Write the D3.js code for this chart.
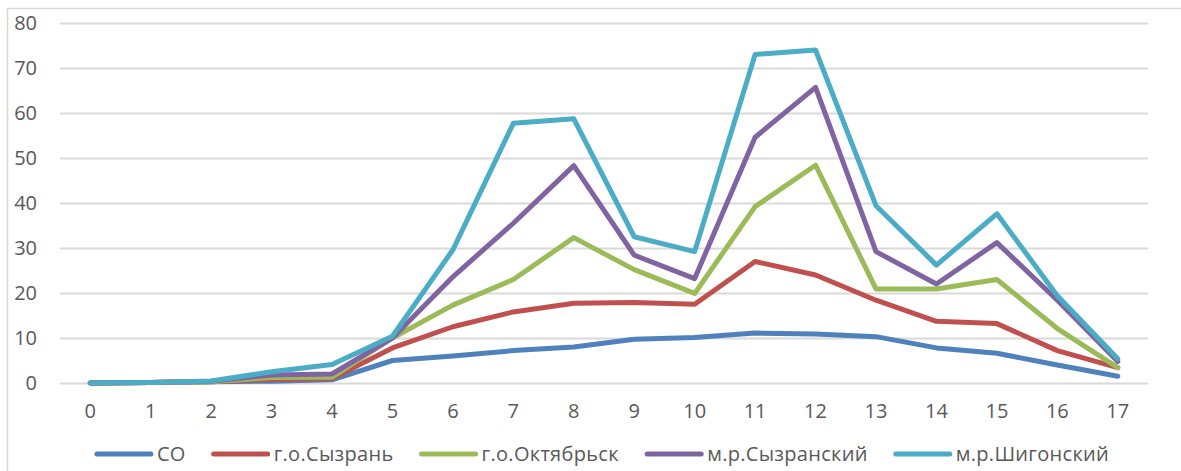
<!DOCTYPE html>
<html>
<head>
<meta charset="utf-8">
<script src="https://cdn.jsdelivr.net/npm/d3@7/dist/d3.min.js"></script>
<style>
  html, body { margin: 0; padding: 0; background: #fff; }
  svg { display: block; }
  text { font-family: "Open Sans", "Liberation Sans", sans-serif; fill: #595959; }
</style>
</head>
<body>
<svg id="chart" width="1181" height="471"></svg>
<script>
const categories = ["0","1","2","3","4","5","6","7","8","9","10","11","12","13","14","15","16","17"];
const seriesNames = ["СО", "г.о.Сызрань", "г.о.Октябрьск", "м.р.Сызранский", "м.р.Шигонский"];
const valuesSO        = [0, 0.1, 0.3, 0.4, 0.7, 5.0, 6.0, 7.2, 8.0, 9.7, 10.1, 11.1, 10.9, 10.3, 7.8, 6.6, 4.0, 1.5];
const valuesSyzran    = [0, 0.1, 0.3, 0.8, 1.0, 7.8, 12.5, 15.8, 17.7, 17.9, 17.5, 27.0, 24.0, 18.4, 13.7, 13.2, 7.2, 3.4];
const valuesOktyabrsk = [0, 0.1, 0.3, 1.2, 1.3, 10.0, 17.3, 23.0, 32.3, 25.2, 19.9, 39.2, 48.4, 20.9, 20.9, 23.0, 12.1, 3.4];
const valuesSyzranMR  = [0, 0.1, 0.4, 1.8, 2.0, 10.0, 23.6, 35.5, 48.3, 28.4, 23.2, 54.6, 65.7, 29.2, 22.0, 31.2, 18.4, 4.8];
const valuesShigony   = [0, 0.1, 0.45, 2.5, 4.1, 10.4, 29.6, 57.7, 58.7, 32.5, 29.2, 73.0, 74.0, 39.4, 26.2, 37.6, 19.4, 5.4];
const yTicks = [0, 10, 20, 30, 40, 50, 60, 70, 80];
const colors = ["#4F81BD", "#C0504D", "#9BBB59", "#8064A2", "#4BACC6"];

const series = [valuesSO, valuesSyzran, valuesOktyabrsk, valuesSyzranMR, valuesShigony]
  .map((vals, i) => ({ name: seriesNames[i], color: colors[i], values: vals }));

const svg = d3.select("#chart");
const plot = { left: 60, right: 1148, top: 23, bottom: 383 };

// outer chart border
svg.append("rect")
  .attr("x", 7.5).attr("y", 8.5)
  .attr("width", 1300).attr("height", 600)
  .attr("fill", "none").attr("stroke", "#d9d9d9").attr("stroke-width", 1.5);

const x = d3.scaleBand().domain(categories).range([plot.left, plot.right]);
const y = d3.scaleLinear().domain([0, 80]).range([plot.bottom, plot.top]);

// gridlines + y labels
const yAxis = svg.append("g")
  .attr("transform", `translate(${plot.left},0)`)
  .call(d3.axisLeft(y).tickValues(yTicks).tickSize(-(plot.right - plot.left)).tickPadding(23));
yAxis.select(".domain").remove();
yAxis.selectAll(".tick line").attr("stroke", "#d9d9d9").attr("stroke-width", 2);
yAxis.selectAll(".tick text").style("font-size", "20px").attr("fill", "#595959")
  .style("font-family", "'Open Sans', sans-serif");

// x labels
const xAxis = svg.append("g")
  .attr("transform", `translate(0,${plot.bottom})`)
  .call(d3.axisBottom(x).tickSize(0).tickPadding(21));
xAxis.select(".domain").remove();
xAxis.selectAll(".tick text").style("font-size", "20px").attr("fill", "#595959")
  .style("font-family", "'Open Sans', sans-serif");

// lines
const line = d3.line()
  .x((d, i) => x(categories[i]) + x.bandwidth() / 2)
  .y(d => y(d));

svg.append("g").selectAll("path")
  .data(series)
  .join("path")
  .attr("d", d => line(d.values))
  .attr("fill", "none")
  .attr("stroke", d => d.color)
  .attr("stroke-width", 5)
  .attr("stroke-linejoin", "round")
  .attr("stroke-linecap", "round");

// legend
const legendY = 454;
const legend = svg.append("g");
const items = legend.selectAll("g").data(series).join("g");
items.append("line")
  .attr("x1", 0).attr("x2", 54)
  .attr("y1", legendY).attr("y2", legendY)
  .attr("stroke", d => d.color).attr("stroke-width", 5).attr("stroke-linecap", "round");
items.append("text")
  .attr("x", 60).attr("y", legendY).attr("dy", "0.35em")
  .style("font-size", "20px")
  .style("letter-spacing", "0.3px")
  .text(d => d.name);

let widths = [];
items.each(function () { widths.push(this.getBBox().width); });
const gap = 28;
const total = d3.sum(widths) + gap * (widths.length - 1);
let cx = 603 - total / 2;
items.each(function (d, i) {
  d3.select(this).attr("transform", `translate(${cx},0)`);
  cx += widths[i] + gap;
});
</script>
</body>
</html>
